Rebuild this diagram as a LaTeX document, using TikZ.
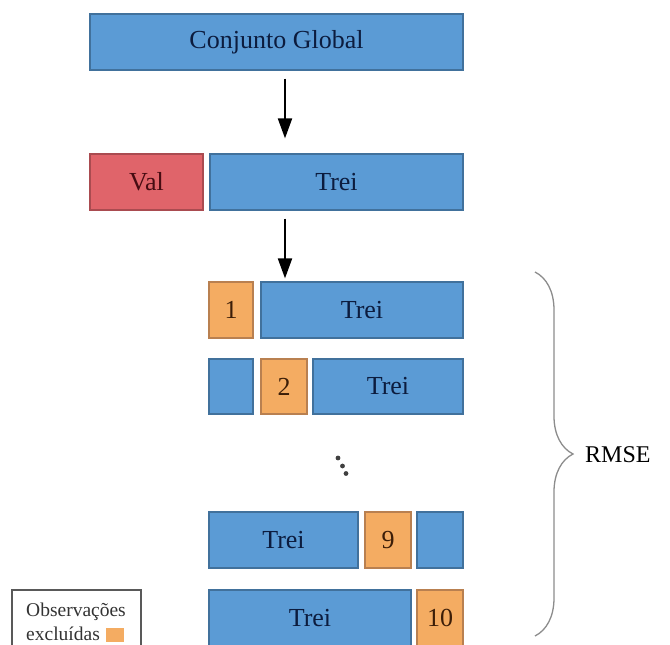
\documentclass[tikz,border=0pt]{standalone}
\usepackage{fontspec}
\setmainfont{Liberation Serif}
\usepackage{tikz}
\usetikzlibrary{arrows.meta}
\usetikzlibrary{decorations.pathreplacing}
\usepackage{xcolor}
\definecolor{ColBlue}{RGB}{91,155,213}
\definecolor{ColBlueD}{RGB}{65,113,156}
\definecolor{ColOra}{RGB}{244,172,98}
\definecolor{ColOraD}{RGB}{185,128,80}
\definecolor{ColOraT}{RGB}{60,30,8}
\definecolor{ColRed}{RGB}{224,100,106}
\definecolor{ColRedD}{RGB}{170,75,80}
\definecolor{ColRedT}{RGB}{70,12,18}
\definecolor{ColTxt}{RGB}{12,28,62}
\tikzstyle{BoxBase}=[rectangle,inner sep=0pt,line width=1.2pt,minimum height=56pt,
font=\fontsize{26}{30}\selectfont]
\tikzstyle{BoxTrei}=[BoxBase,draw=ColBlueD,fill=ColBlue,text=ColTxt]
\tikzstyle{BoxFold}=[BoxBase,draw=ColOraD,fill=ColOra,text=ColOraT,minimum width=46pt]
\tikzstyle{BoxVal}=[BoxBase,draw=ColRedD,fill=ColRed,text=ColRedT]
\tikzstyle{ArrowDown}=[line width=2pt,-{Triangle[length=20pt,width=14pt]}]
\tikzstyle{BraceRMSE}=[draw=black!45,line width=1.3pt,decorate,decoration={brace,amplitude=38pt}]
\tikzstyle{LegText}=[inner sep=0pt,anchor=base west,text=black!80,font=\fontsize{19.5}{23}\selectfont]

\begin{document}
\begin{tikzpicture}[x=1pt,y=-1pt]
        \useasboundingbox(0,0)rectangle(670,645);
        % conjunto e divisao
        \node[BoxTrei,minimum width=373pt](glob)at(276.5,42){Conjunto Global};
        \node[BoxVal,minimum width=113pt](val)at(146.5,182){Val};
        \node[BoxTrei,minimum width=253pt](trein)at(336.5,182){Trei};
        % folds
        \node[BoxFold,minimum width=44pt](f1)at(231,310){1};
        \node[BoxTrei,minimum width=202pt](t1)at(362,310){Trei};
        \node[BoxTrei,minimum width=44pt,minimum height=55pt](b2)at(231,386.5){};
        \node[BoxFold,minimum height=55pt](f2)at(284,386.5){2};
        \node[BoxTrei,minimum width=150pt,minimum height=55pt](t2)at(388,386.5){Trei};
        \node[BoxTrei,minimum width=149pt](t9)at(283.5,540){Trei};
        \node[BoxFold](f9)at(388,540){9};
        \node[BoxTrei,minimum width=46pt](b9)at(440,540){};
        \node[BoxTrei,minimum width=202pt](t10)at(310,618){Trei};
        \node[BoxFold](f10)at(440,618){10};
        \fill[black!75](338,458)circle(2.4pt);
        \fill[black!75](342.5,466)circle(2.4pt);
        \fill[black!75](346,473.5)circle(2.4pt);
        % setas
        \coordinate(ax)at(285,0);
        \draw[ArrowDown,shorten <=8pt,shorten >=15pt](glob.south -| ax)--(trein.north -| ax);
        \draw[ArrowDown,shorten <=8pt,shorten >=3pt](trein.south -| ax)--(t1.north -| ax);
        % chave
        \coordinate(bt)at(535,272);
        \coordinate(bb)at(535,636);
        \draw[BraceRMSE](bt)--(bb);
        \node[anchor=west,inner sep=0pt,font=\fontsize{24}{28}\selectfont](rmse)at(585,455){RMSE};
        % legenda
        \node[draw=black!65,line width=1.2pt,minimum width=129pt,minimum height=60pt,inner sep=0pt](leg)at(76.5,620){};
        \node[LegText](obs)at(26,616){Observações};
        \node[LegText](exc)at(26,640){excluídas};
        \node[fill=ColOra,minimum width=18pt,minimum height=14pt,inner sep=0pt,anchor=south west](lsq)at([xshift=6pt,yshift=-2pt]exc.base east){};
    \end{tikzpicture}
\end{document}
